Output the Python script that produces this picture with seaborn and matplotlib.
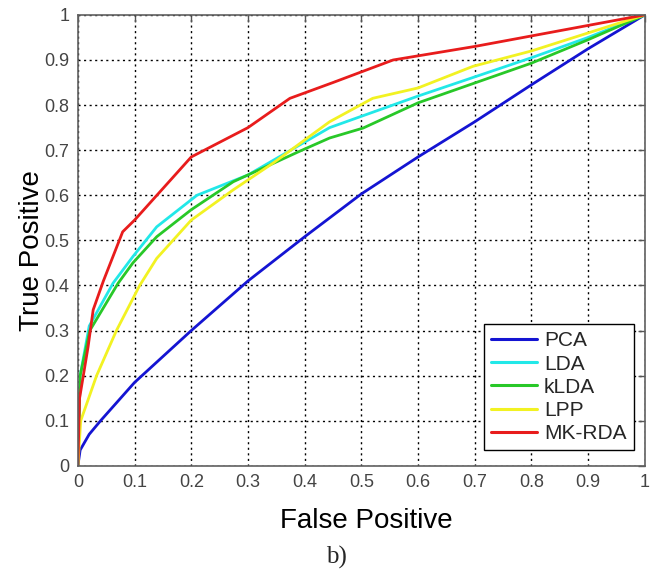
import numpy as np
import pandas as pd
import matplotlib
matplotlib.use("Agg")
import matplotlib.pyplot as plt
import seaborn as sns

methods = ["PCA", "LDA", "kLDA", "LPP", "MK-RDA"]
colors = ["#1414d2", "#22e8e8", "#28c828", "#f2f222", "#e81c1c"]

pca_fp = [0, 0.004, 0.02, 0.04, 0.1, 0.2, 0.3, 0.4, 0.5, 0.6, 0.7, 0.8, 0.9, 1.0]
pca_tp = [0, 0.035, 0.07, 0.10, 0.185, 0.30, 0.41, 0.508, 0.603, 0.685, 0.763, 0.845, 0.925, 1.0]

lda_fp = [0, 0.004, 0.02, 0.062, 0.097, 0.139, 0.21, 0.3, 0.444, 0.6, 0.8, 0.9, 1.0]
lda_tp = [0, 0.2, 0.31, 0.405, 0.464, 0.53, 0.6, 0.645, 0.75, 0.82, 0.905, 0.95, 1.0]

klda_fp = [0, 0.004, 0.021, 0.071, 0.097, 0.139, 0.2, 0.274, 0.39, 0.444, 0.503, 0.6, 0.8, 0.9, 1.0]
klda_tp = [0, 0.2, 0.30, 0.405, 0.45, 0.508, 0.568, 0.63, 0.697, 0.727, 0.749, 0.805, 0.893, 0.945, 1.0]

lpp_fp = [0, 0.005, 0.033, 0.068, 0.109, 0.139, 0.2, 0.274, 0.345, 0.444, 0.52, 0.6, 0.697, 0.8, 0.9, 1.0]
lpp_tp = [0, 0.1, 0.2, 0.30, 0.40, 0.46, 0.545, 0.612, 0.672, 0.763, 0.815, 0.838, 0.886, 0.92, 0.96, 1.0]

mk_fp = [0, 0.003, 0.018, 0.027, 0.045, 0.079, 0.1, 0.2, 0.3, 0.374, 0.45, 0.556, 0.7, 0.85, 1.0]
mk_tp = [0, 0.15, 0.264, 0.346, 0.41, 0.519, 0.545, 0.685, 0.75, 0.815, 0.85, 0.9, 0.93, 0.965, 1.0]

series = [(pca_fp, pca_tp), (lda_fp, lda_tp), (klda_fp, klda_tp), (lpp_fp, lpp_tp), (mk_fp, mk_tp)]
frames = []
for name, (fp, tp) in zip(methods, series):
    frames.append(pd.DataFrame({"fp": fp, "tp": tp, "method": name}))
df = pd.concat(frames, ignore_index=True)

sns.set_style("white")
plt.rcParams["font.family"] = ["Liberation Sans", "DejaVu Sans"]

fig = plt.figure(figsize=(6.6, 5.73), dpi=100)
ax = fig.add_axes([0.118, 0.187, 0.859, 0.787])

sns.lineplot(data=df, x="fp", y="tp", hue="method", hue_order=methods,
             palette=colors, sort=False, estimator=None,
             linewidth=2.0, ax=ax, legend=True)

ax.set_xlim(0, 1)
ax.set_ylim(0, 1)
ticks = np.round(np.arange(0, 1.01, 0.1), 1)
ax.set_xticks(ticks)
ax.set_yticks(ticks)
lab = ["0"] + [f"{t:g}" for t in ticks[1:-1]] + ["1"]
ax.set_xticklabels(lab)
ax.set_yticklabels(lab)
ax.grid(True, color="black", linestyle=(0, (1.5, 2.5)), linewidth=1.0)
ax.tick_params(direction="in", length=5, width=1, colors="#555555", labelcolor="#444444",
               labelsize=13, top=True, right=True, pad=6)
for s in ax.spines.values():
    s.set_color("#606060")
    s.set_linewidth(1.2)

ax.set_xlabel("False Positive", fontsize=20, color="black")
ax.set_ylabel("True Positive", fontsize=20, color="black")
ax.xaxis.set_label_coords(0.508, -0.093)
ax.yaxis.set_label_coords(-0.058, 0.478)

leg = ax.legend(loc="lower right", bbox_to_anchor=(0.988, 0.025), fontsize=15,
                frameon=True, fancybox=False, edgecolor="black", framealpha=1,
                handlelength=2.2, handletextpad=0.35, labelspacing=0.2,
                borderpad=0.35, borderaxespad=0.2)
leg.get_frame().set_linewidth(1.0)
for h in leg.get_lines():
    h.set_linewidth(2.2)

fig.text(0.51, 0.027, "b)", fontsize=18, family="Liberation Serif", ha="center", va="center")

fig.savefig("out.png", dpi=100)
